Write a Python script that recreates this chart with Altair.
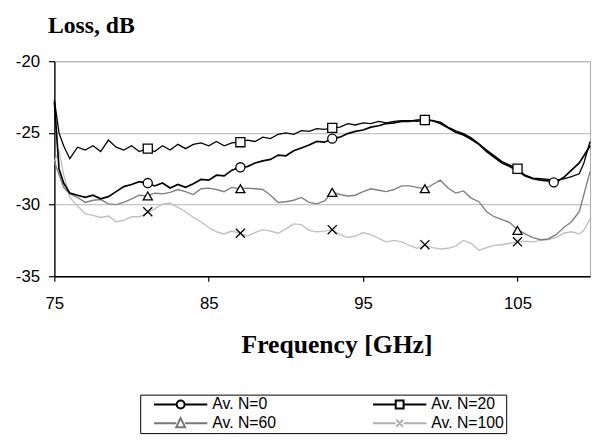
import altair as alt
import pandas as pd

# ---------------- data ----------------
freq = [75.0, 75.3, 75.6, 76.0, 76.5, 77.0, 77.5, 78.0, 78.5, 79.0,
        79.5, 80.0, 80.5, 81.0, 81.5, 82.0, 82.5, 83.0, 83.5, 84.0,
        84.5, 85.0, 85.5, 86.0, 86.5, 87.0, 87.5, 88.0, 88.5, 89.0,
        89.5, 90.0, 90.5, 91.0, 91.5, 92.0, 92.5, 93.0, 93.5, 94.0,
        94.5, 95.0, 95.5, 96.0, 96.5, 97.0, 97.5, 98.0, 98.5, 99.0,
        99.5, 100.0, 100.5, 101.0, 101.5, 102.0, 102.5, 103.0, 103.5, 104.0,
        104.5, 105.0, 105.5, 106.0, 106.5, 107.0, 107.5, 108.0, 108.5, 109.0,
        109.3, 109.7]

loss_n0 = [-22.8, -27.5, -28.5, -29.2, -29.35, -29.5, -29.35, -29.6, -29.45, -29.1,
           -28.75, -28.6, -28.4, -28.5, -28.7, -28.5, -28.85, -28.6, -28.8, -28.55,
           -28.25, -28.3, -27.95, -28.0, -27.6, -27.4, -27.35, -27.1, -26.95, -26.85,
           -26.55, -26.6, -26.25, -26.05, -25.85, -25.6, -25.65, -25.4, -25.3, -25.05,
           -24.9, -24.8, -24.6, -24.5, -24.35, -24.3, -24.2, -24.2, -24.1, -24.1,
           -24.15, -24.35, -24.65, -24.95, -25.15, -25.45, -25.8, -26.3, -26.7, -27.1,
           -27.35, -27.65, -28.0, -28.2, -28.3, -28.35, -28.45, -28.1, -27.6, -27.1,
           -26.6, -25.9]

loss_n20 = [-22.7, -25.0, -25.9, -26.8, -26.0, -26.2, -25.9, -26.3, -25.5, -26.0,
            -26.2, -25.9, -26.3, -26.1, -26.3, -25.9, -26.2, -25.8, -26.1, -25.8,
            -25.7, -25.9, -25.6, -25.9, -25.7, -25.65, -25.5, -25.6, -25.3, -25.4,
            -25.1, -25.0, -25.1, -24.85, -24.9, -24.7, -24.75, -24.65, -24.6, -24.35,
            -24.45, -24.3, -24.35, -24.2, -24.3, -24.2, -24.15, -24.15, -24.2, -24.1,
            -24.15, -24.25, -24.6, -24.85, -25.05, -25.35, -25.75, -26.2, -26.6, -27.0,
            -27.25, -27.5, -27.95, -28.15, -28.2, -28.25, -28.3, -28.2, -28.05, -27.85,
            -27.1, -25.6]

loss_n60 = [-27.0, -27.9, -28.8, -29.25, -29.5, -29.85, -29.7, -29.65, -29.95, -30.0,
            -29.85, -29.6, -29.35, -29.4, -29.2, -29.25, -29.15, -28.95, -29.1, -29.3,
            -28.9, -28.85, -28.95, -29.1, -28.8, -28.9, -28.85, -28.9, -28.95, -29.35,
            -29.85, -29.8, -29.7, -29.5, -29.85, -29.95, -29.75, -29.15, -29.3, -29.4,
            -29.35, -29.1, -28.9, -29.0, -29.1, -28.95, -28.7, -28.7, -28.8, -28.9,
            -28.6, -28.3, -28.85, -29.2, -29.05, -29.55, -29.8, -30.5, -30.85, -31.05,
            -31.25, -31.75, -32.05, -32.3, -32.45, -32.4, -32.1, -31.6, -31.2, -30.5,
            -29.3, -27.7]

loss_n100 = [-27.0, -26.25, -27.9, -29.5, -30.1, -30.65, -30.75, -30.9, -30.8, -31.2,
             -31.1, -30.85, -30.85, -30.6, -30.3, -29.95, -29.9, -30.2, -30.5, -30.9,
             -31.2, -31.6, -31.9, -32.05, -31.85, -32.0, -32.2, -31.95, -31.75, -31.85,
             -32.0, -31.7, -31.35, -31.4, -31.8, -31.9, -31.85, -31.75, -32.1, -32.3,
             -32.2, -31.95, -32.1, -32.35, -32.6, -32.5, -32.6, -32.85, -33.05, -32.85,
             -33.0, -33.1, -33.05, -32.9, -32.5, -32.7, -33.2, -33.0, -32.85, -32.8,
             -32.7, -32.6, -32.55, -32.6, -32.5, -32.45, -32.3, -32.0, -31.9, -32.05,
             -31.8, -31.0]

series_names = ["Av. N=0", "Av. N=20", "Av. N=60", "Av. N=100"]

marker_freq_n0 = [81.05, 87.05, 93.0, 99.0, 107.35]
marker_loss_n0 = [-28.5, -27.4, -25.4, -24.1, -28.45]
marker_freq_other = [81.05, 87.05, 93.0, 99.0, 105.0]
marker_loss_n20 = [-26.1, -25.65, -24.65, -24.1, -27.5]
marker_loss_n60 = [-29.4, -28.9, -29.15, -28.9, -31.8]
marker_loss_n100 = [-30.5, -32.0, -31.75, -32.8, -32.6]

x_ticks = [75, 85, 95, 105]
y_ticks = [-35, -30, -25, -20]

# ---------------- styles ----------------
line_colors = {"Av. N=0": "#000000", "Av. N=20": "#000000",
               "Av. N=60": "#808080", "Av. N=100": "#c0c0c0"}
line_widths = {"Av. N=0": 1.7, "Av. N=20": 1.3, "Av. N=60": 1.4, "Av. N=100": 1.4}
marker_shapes = ["circle", "square", "triangle-up", "M-1,-1L1,1M-1,1L1,-1"]

# legend symbols: line + marker drawn as one path (unit = 7 px)
legend_order = ["Av. N=0", "Av. N=60", "Av. N=20", "Av. N=100"]
legend_paths = [
    "M-3.86,0H-0.57M0.57,0H3.86M-0.57,0A0.57,0.57,0,1,1,0.57,0A0.57,0.57,0,1,1,-0.57,0Z",
    "M-3.86,0H-0.64M0.64,0H3.86M0,-0.75L0.64,0.57L-0.64,0.57Z",
    "M-3.86,0H-0.57M0.57,0H3.86M-0.57,-0.57H0.57V0.57H-0.57Z",
    "M-3.86,0H-0.6M0.6,0H3.86M-0.5,-0.5L0.5,0.5M-0.5,0.5L0.5,-0.5",
]
legend_colors = ["#000000", "#777777", "#000000", "#b0b0b0"]

# ---------------- tables ----------------
rows = []
for name, vals in zip(series_names, [loss_n0, loss_n20, loss_n60, loss_n100]):
    for f, v in zip(freq, vals):
        rows.append({"freq": f, "loss": v, "series": name})
df = pd.DataFrame(rows)

mrows = []
for name, fs, vals in [("Av. N=0", marker_freq_n0, marker_loss_n0),
                       ("Av. N=20", marker_freq_other, marker_loss_n20),
                       ("Av. N=60", marker_freq_other, marker_loss_n60),
                       ("Av. N=100", marker_freq_other, marker_loss_n100)]:
    for f, v in zip(fs, vals):
        mrows.append({"freq": f, "loss": v, "series": name})
mdf = pd.DataFrame(mrows)

legend_df = pd.DataFrame({"lg": legend_order})

# ---------------- encodings ----------------
x_enc = alt.X("freq:Q",
              scale=alt.Scale(domain=[75, 109.7], nice=False, zero=False),
              axis=alt.Axis(values=x_ticks, title="Frequency [GHz]", grid=False,
                            domainColor="black", domainWidth=1.3,
                            tickColor="black", tickSize=5, tickWidth=1.2,
                            labelFont="Liberation Sans", labelFontSize=17, labelColor="black",
                            labelPadding=15, labelFlush=False,
                            titleFont="Liberation Serif", titleFontSize=26,
                            titleFontWeight="bold", titleColor="black",
                            titleX=286, titleY=77, titleBaseline="alphabetic"))
y_enc = alt.Y("loss:Q",
              scale=alt.Scale(domain=[-35, -20], nice=False, zero=False),
              axis=alt.Axis(values=y_ticks, title="Loss, dB", grid=True,
                            gridColor="#b4b4b4", gridWidth=1,
                            domainColor="black", domainWidth=1.3,
                            tickColor="black", tickSize=6, tickWidth=1.2,
                            labelFont="Liberation Sans", labelFontSize=17, labelColor="black",
                            labelPadding=9,
                            labelExpr="replace(datum.label, '\u2212', '-')",
                            titleFont="Liberation Serif", titleFontSize=24,
                            titleFontWeight="bold", titleColor="black",
                            titleAngle=0, titleAlign="left", titleBaseline="alphabetic",
                            titleX=-7, titleY=-29))

layers = []
for name in ["Av. N=100", "Av. N=60", "Av. N=20", "Av. N=0"]:
    layers.append(
        alt.Chart(df).transform_filter(alt.datum.series == name)
        .mark_line(color=line_colors[name], strokeWidth=line_widths[name])
        .encode(x=x_enc, y=y_enc)
    )

markers = alt.Chart(mdf).mark_point(filled=True, fill="white", stroke="black",
                                    strokeWidth=1.3, size=85, opacity=1).encode(
    x=x_enc, y=y_enc,
    shape=alt.Shape("series:N", scale=alt.Scale(domain=series_names, range=marker_shapes),
                    legend=None),
)
layers.append(markers)

leg = alt.Legend(orient="none", legendX=87, legendY=338, columns=2, title=None,
                 symbolSize=196, symbolStrokeWidth=2, symbolOffset=31,
                 symbolOpacity=1,
                 labelOffset=24, labelFont="Liberation Sans", labelFontSize=16,
                 labelColor="black", strokeColor="black", fillColor="white",
                 padding=2, rowPadding=1, columnPadding=86)

legend_layer = alt.Chart(legend_df).transform_filter("false").mark_point(
    filled=False, strokeWidth=2, opacity=1).encode(
    shape=alt.Shape("lg:N", scale=alt.Scale(domain=legend_order, range=legend_paths),
                    legend=leg),
    color=alt.Color("lg:N", scale=alt.Scale(domain=legend_order, range=legend_colors),
                    legend=leg),
)
layers.append(legend_layer)

chart = alt.layer(*layers).resolve_scale(
    shape="independent", color="independent"
).resolve_legend(shape="independent", color="independent").properties(
    width=543, height=218,
    autosize=alt.AutoSizeParams(type="none"),
    padding={"left": 47, "top": 51, "right": 4, "bottom": 158},
    background="white",
).configure_view(stroke="#a8a8a8", strokeWidth=1)

chart.save("out.html", embed_options={"renderer": "svg", "actions": False})
